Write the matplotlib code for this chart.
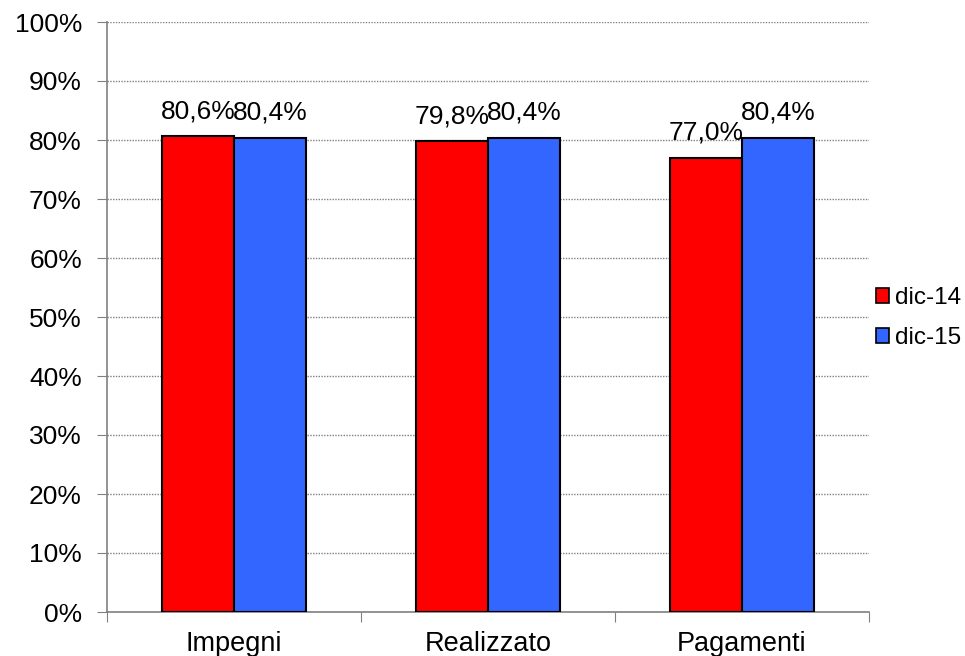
import matplotlib
matplotlib.use("Agg")
import matplotlib.pyplot as plt
from matplotlib.patches import Patch
import numpy as np

categories = ["Impegni", "Realizzato", "Pagamenti"]
series_names = ["dic-14", "dic-15"]
dic14 = [80.6, 79.8, 77.0]
dic15 = [80.4, 80.4, 80.4]
yticks = [0, 10, 20, 30, 40, 50, 60, 70, 80, 90, 100]

plt.rcParams['font.family'] = ['Liberation Sans', 'DejaVu Sans']
FS = 19

fig = plt.figure(figsize=(9.65, 6.56), dpi=100)
ax = fig.add_axes([107/965, 1-612/656, (869-107)/965, (612-22)/656])

x = np.arange(len(categories))
w = 0.285
colors = ["#FF0000", "#3366FF"]
for vals, off, c in [(dic14, -w/2, colors[0]), (dic15, w/2, colors[1])]:
    bars = ax.bar(x + off, vals, width=w, color=c, edgecolor="black", linewidth=1.5, zorder=3)
    for b, v in zip(bars, vals):
        ax.text(b.get_x() + b.get_width()/2, v + 2.2, f"{v:.1f}%".replace(".", ","),
                ha="center", va="bottom", fontsize=FS, color="black", zorder=4)

ax.set_xlim(-0.5, 2.5)
ax.set_ylim(0, 100)
ax.set_yticks(yticks)
ax.set_yticklabels([f"{t}%" for t in yticks], fontsize=FS)
ax.yaxis.grid(True, linestyle=(0, (1, 1)), color="#808080", linewidth=1, zorder=0)
ax.set_xticks([-0.5, 0.5, 1.5, 2.5])
ax.set_xticklabels([])
ax.set_xticks(x, minor=True)
ax.set_xticklabels(categories, minor=True, fontsize=19.5)
ax.tick_params(axis="x", which="minor", length=0, pad=14)
ax.tick_params(axis="x", which="major", direction="out", length=7, color="#808080")
ax.tick_params(axis="y", direction="out", length=7, color="#808080", pad=11)
for s in ["top", "right"]:
    ax.spines[s].set_visible(False)
ax.spines["left"].set_color("#808080")
ax.spines["bottom"].set_color("#808080")
ax.spines["left"].set_linewidth(1.2)
ax.spines["bottom"].set_linewidth(1.2)

handles = [Patch(facecolor=colors[i], edgecolor="black", linewidth=1.2, label=series_names[i]) for i in range(2)]
fig.legend(handles=handles, loc="center left", bbox_to_anchor=(866/965, 1-318/656),
           frameon=False, fontsize=17.5, handlelength=0.55, handleheight=0.55,
           handletextpad=0.25, labelspacing=0.75, borderaxespad=0)

fig.savefig("out.png", dpi=100)
